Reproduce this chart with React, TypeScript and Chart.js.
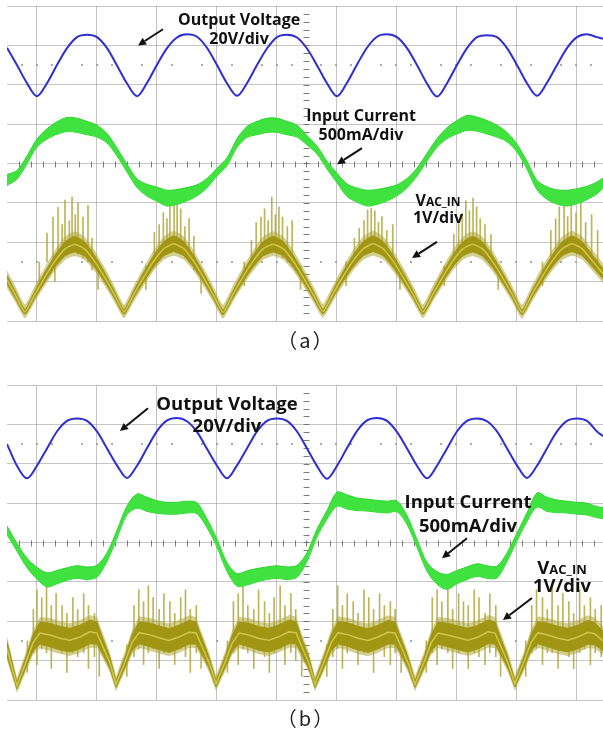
import React, { useEffect, useRef } from "react";
import { Chart, registerables } from "chart.js";
Chart.register(...registerables);

// Time axis in ms (5 ms/div), one sample every ~0.835 ms
const T = [0, 0.83, 1.67, 2.5, 3.34, 4.17, 5.01, 5.84, 6.68, 7.51, 8.35, 9.18, 10.02, 10.85, 11.69, 12.52, 13.36, 14.19, 15.02, 15.86, 16.69, 17.53, 18.36, 19.2, 20.03, 20.87, 21.7, 22.54, 23.37, 24.21, 25.04, 25.88, 26.71, 27.55, 28.38, 29.21, 30.05, 30.88, 31.72, 32.55, 33.39, 34.22, 35.06, 35.89, 36.73, 37.56, 38.4, 39.23, 40.07, 40.9, 41.74, 42.57, 43.4, 44.24, 45.07, 45.91, 46.74, 47.58, 48.41, 49.25, 49.75];

// ---------- Panel (a) values, in screen divisions (0 = bottom, 8 = top)
const outVoltageA = [6.94, 6.5, 6.04, 5.71, 6.04, 6.5, 6.93, 7.21, 7.27, 7.21, 6.93, 6.49, 6.03, 5.71, 6.05, 6.51, 6.93, 7.2, 7.28, 7.22, 6.94, 6.5, 6.04, 5.72, 6.04, 6.5, 6.92, 7.21, 7.27, 7.2, 6.92, 6.49, 6.04, 5.71, 6.05, 6.51, 6.94, 7.22, 7.28, 7.21, 6.93, 6.5, 6.03, 5.7, 6.04, 6.5, 6.93, 7.21, 7.26, 7.21, 6.93, 6.5, 6.04, 5.72, 6.05, 6.5, 6.93, 7.21, 7.28, 7.21, 7.17];
const inCurrentA = [3.58, 3.71, 4.09, 4.52, 4.75, 4.9, 4.99, 4.97, 4.9, 4.82, 4.64, 4.29, 3.88, 3.5, 3.32, 3.22, 3.12, 3.15, 3.22, 3.32, 3.5, 3.78, 4.04, 4.52, 4.8, 4.9, 4.97, 4.97, 4.9, 4.82, 4.59, 4.34, 3.96, 3.63, 3.32, 3.2, 3.12, 3.15, 3.22, 3.32, 3.5, 3.78, 4.16, 4.52, 4.77, 4.92, 5.03, 5.0, 4.92, 4.82, 4.67, 4.39, 3.96, 3.45, 3.25, 3.15, 3.12, 3.17, 3.25, 3.38, 3.5];
const inCurrentSpreadA = [0.14, 0.11, 0.1, 0.1, 0.13, 0.16, 0.18, 0.18, 0.17, 0.15, 0.12, 0.1, 0.1, 0.11, 0.15, 0.18, 0.2, 0.19, 0.17, 0.14, 0.12, 0.1, 0.1, 0.11, 0.14, 0.17, 0.18, 0.18, 0.17, 0.15, 0.12, 0.1, 0.1, 0.12, 0.16, 0.18, 0.2, 0.19, 0.17, 0.14, 0.12, 0.1, 0.1, 0.11, 0.14, 0.17, 0.19, 0.18, 0.17, 0.15, 0.12, 0.1, 0.1, 0.12, 0.16, 0.18, 0.2, 0.19, 0.17, 0.15, 0.13];
const vacTimeA = [0, 0.67, 1.5, 2.33, 3.17, 4.0, 4.84, 5.65, 6.47, 7.3, 8.14, 8.95, 9.77, 10.6, 11.44, 12.27, 13.11, 13.92, 14.74, 15.57, 16.4, 17.21, 18.03, 18.87, 19.7, 20.54, 21.37, 22.2, 23.04, 23.87, 24.71, 25.54, 26.38, 27.21, 28.05, 28.88, 29.72, 30.55, 31.38, 32.22, 33.05, 33.89, 34.72, 35.55, 36.38, 37.22, 38.05, 38.86, 39.68, 40.51, 41.33, 42.16, 42.99, 43.83, 44.66, 45.5, 46.33, 47.16, 48.0, 48.83, 49.75];
const vacA = [1.05, 0.68, 0.23, 0.68, 1.12, 1.52, 1.83, 1.95, 1.83, 1.52, 1.12, 0.68, 0.23, 0.69, 1.13, 1.53, 1.84, 1.96, 1.84, 1.52, 1.11, 0.67, 0.22, 0.68, 1.12, 1.52, 1.83, 1.95, 1.84, 1.53, 1.12, 0.68, 0.24, 0.69, 1.13, 1.52, 1.83, 1.96, 1.84, 1.52, 1.12, 0.68, 0.23, 0.68, 1.12, 1.53, 1.83, 1.95, 1.83, 1.52, 1.12, 0.68, 0.22, 0.68, 1.12, 1.52, 1.83, 1.96, 1.84, 1.54, 1.2];
const vacSpreadA = [0.11, 0.09, 0.06, 0.09, 0.12, 0.15, 0.18, 0.2, 0.18, 0.15, 0.12, 0.09, 0.06, 0.09, 0.12, 0.15, 0.18, 0.2, 0.18, 0.15, 0.12, 0.09, 0.06, 0.09, 0.12, 0.15, 0.18, 0.2, 0.18, 0.15, 0.12, 0.09, 0.06, 0.09, 0.12, 0.15, 0.18, 0.2, 0.18, 0.15, 0.12, 0.09, 0.06, 0.09, 0.12, 0.15, 0.18, 0.2, 0.18, 0.15, 0.12, 0.09, 0.06, 0.09, 0.12, 0.15, 0.18, 0.2, 0.18, 0.15, 0.13];
const spikeTimeA = [2.7, 3.34, 3.84, 4.0, 4.26, 4.6, 4.84, 5.2, 5.43, 5.7, 5.93, 6.34, 6.76, 7.1, 7.6, 11.6, 12.3, 12.7, 13.05, 13.35, 13.6, 13.95, 14.2, 14.5, 14.85, 15.2, 15.6, 16.2, 19.8, 20.4, 20.8, 21.2, 21.5, 21.8, 22.1, 22.4, 22.7, 23.0, 23.4, 23.8, 24.5, 28.3, 29.0, 29.4, 29.8, 30.1, 30.4, 30.7, 31.0, 31.3, 31.7, 32.2, 32.8, 36.5, 37.3, 37.7, 38.0, 38.3, 38.6, 38.9, 39.2, 39.5, 39.9, 40.4, 41.0, 44.7, 45.4, 45.8, 46.1, 46.5, 46.8, 47.1, 47.5, 47.9, 48.3, 48.8, 49.3];
const spikeLowA = [0.95, 1.5, 1.6, 1.0, 1.7, 1.7, 1.8, 1.8, 1.75, 1.8, 1.7, 1.6, 1.5, 1.3, 0.8, 0.8, 1.5, 1.6, 1.7, 1.7, 1.8, 1.8, 1.8, 1.7, 1.6, 1.5, 1.3, 0.7, 0.9, 1.5, 1.6, 1.7, 1.7, 1.8, 1.8, 1.8, 1.7, 1.6, 1.5, 1.4, 0.8, 0.9, 1.5, 1.6, 1.7, 1.8, 1.8, 1.8, 1.8, 1.7, 1.6, 1.5, 0.8, 0.9, 1.5, 1.6, 1.7, 1.8, 1.8, 1.8, 1.8, 1.7, 1.6, 1.4, 0.8, 0.9, 1.5, 1.6, 1.7, 1.8, 1.8, 1.8, 1.8, 1.7, 1.6, 1.5, 1.4];
const spikeHighA = [1.5, 2.23, 2.64, 1.6, 2.89, 2.45, 3.07, 2.55, 3.15, 2.7, 3.0, 2.64, 2.94, 2.1, 1.5, 1.4, 2.25, 2.45, 2.75, 2.6, 3.05, 2.95, 3.0, 2.85, 2.4, 2.6, 2.15, 1.3, 1.5, 2.05, 2.5, 2.64, 2.85, 2.55, 3.15, 2.7, 2.9, 2.64, 2.4, 2.55, 1.4, 1.5, 2.1, 2.35, 2.55, 2.82, 2.87, 2.8, 2.5, 2.65, 2.3, 2.45, 1.3, 1.4, 2.2, 2.5, 2.74, 3.05, 2.8, 3.12, 2.9, 2.6, 2.45, 2.2, 1.3, 1.5, 2.3, 2.6, 2.9, 3.1, 2.65, 2.95, 2.75, 3.05, 2.5, 2.7, 2.3];

// ---------- Panel (b) values
const outVoltageB = [6.5, 5.95, 5.63, 5.95, 6.39, 6.82, 7.09, 7.15, 7.09, 6.82, 6.39, 5.96, 5.64, 5.95, 6.4, 6.83, 7.1, 7.16, 7.08, 6.81, 6.38, 5.95, 5.63, 5.96, 6.39, 6.82, 7.09, 7.15, 7.09, 6.82, 6.39, 5.94, 5.62, 5.95, 6.4, 6.83, 7.1, 7.16, 7.09, 6.81, 6.39, 5.95, 5.63, 5.95, 6.39, 6.82, 7.09, 7.15, 7.08, 6.82, 6.39, 5.96, 5.64, 5.95, 6.39, 6.82, 7.09, 7.15, 7.09, 6.82, 6.7];
const inCurrentB = [4.31, 3.88, 3.48, 3.22, 3.05, 3.12, 3.2, 3.25, 3.22, 3.27, 3.63, 4.21, 4.82, 5.05, 4.97, 4.9, 4.87, 4.87, 4.9, 4.87, 4.49, 3.98, 3.38, 3.05, 3.1, 3.17, 3.22, 3.25, 3.22, 3.27, 3.63, 4.24, 4.7, 5.1, 5.03, 4.97, 4.95, 4.92, 4.9, 4.92, 4.57, 3.98, 3.38, 3.1, 3.0, 3.12, 3.22, 3.3, 3.25, 3.25, 3.63, 4.14, 4.64, 5.08, 4.97, 4.92, 4.9, 4.87, 4.85, 4.77, 4.75];
const inCurrentSpreadB = [0.11, 0.1, 0.12, 0.15, 0.18, 0.17, 0.16, 0.16, 0.16, 0.15, 0.11, 0.1, 0.11, 0.18, 0.18, 0.16, 0.15, 0.15, 0.15, 0.14, 0.11, 0.1, 0.11, 0.16, 0.18, 0.17, 0.16, 0.16, 0.16, 0.15, 0.11, 0.1, 0.11, 0.18, 0.18, 0.16, 0.15, 0.15, 0.15, 0.14, 0.11, 0.1, 0.11, 0.16, 0.19, 0.17, 0.16, 0.16, 0.16, 0.15, 0.11, 0.1, 0.11, 0.18, 0.18, 0.16, 0.15, 0.15, 0.15, 0.14, 0.14];
const vacTimeB = [0, 0.83, 1.66, 2.17, 2.75, 3.58, 4.42, 5.25, 6.09, 6.92, 7.51, 8.01, 8.59, 9.1, 9.93, 10.44, 11.02, 11.85, 12.69, 13.52, 14.36, 15.19, 15.78, 16.28, 16.86, 17.45, 18.28, 18.79, 19.37, 20.2, 21.04, 21.87, 22.71, 23.54, 24.13, 24.63, 25.21, 25.71, 26.54, 27.05, 27.63, 28.46, 29.3, 30.13, 30.97, 31.8, 32.39, 32.89, 33.47, 34.06, 34.89, 35.4, 35.98, 36.81, 37.65, 38.48, 39.32, 40.15, 40.74, 41.24, 41.82, 42.4, 43.23, 43.74, 44.32, 45.15, 45.99, 46.82, 47.66, 48.49, 49.08, 49.75];
const vacB = [1.3, 0.36, 1.02, 1.45, 1.7, 1.65, 1.57, 1.52, 1.6, 1.73, 1.7, 1.35, 0.94, 0.4, 1.03, 1.46, 1.71, 1.66, 1.58, 1.51, 1.6, 1.72, 1.7, 1.36, 0.95, 0.41, 1.02, 1.44, 1.7, 1.65, 1.56, 1.52, 1.61, 1.73, 1.71, 1.34, 0.93, 0.4, 1.03, 1.45, 1.71, 1.66, 1.57, 1.51, 1.6, 1.72, 1.7, 1.36, 0.95, 0.4, 1.02, 1.45, 1.7, 1.65, 1.58, 1.52, 1.6, 1.73, 1.7, 1.35, 0.94, 0.41, 1.03, 1.46, 1.71, 1.65, 1.57, 1.52, 1.6, 1.72, 1.68, 1.5];
const vacSpreadB = [0.18, 0.08, 0.14, 0.2, 0.28, 0.3, 0.3, 0.3, 0.3, 0.3, 0.28, 0.2, 0.14, 0.08, 0.14, 0.2, 0.28, 0.3, 0.3, 0.3, 0.3, 0.3, 0.28, 0.2, 0.14, 0.08, 0.14, 0.2, 0.28, 0.3, 0.3, 0.3, 0.3, 0.3, 0.28, 0.2, 0.14, 0.08, 0.14, 0.2, 0.28, 0.3, 0.3, 0.3, 0.3, 0.3, 0.28, 0.2, 0.14, 0.08, 0.14, 0.2, 0.28, 0.3, 0.3, 0.3, 0.3, 0.3, 0.28, 0.2, 0.14, 0.08, 0.14, 0.2, 0.28, 0.3, 0.3, 0.3, 0.3, 0.3, 0.28, 0.25];
const spikeTimeB = [1.7, 2.2, 2.5, 2.9, 3.3, 3.7, 4.1, 4.6, 5.0, 5.5, 5.9, 6.4, 6.8, 7.3, 7.7, 10.0, 10.6, 11.0, 11.4, 11.8, 12.2, 12.7, 13.1, 13.6, 14.0, 14.5, 14.9, 15.3, 15.8, 16.2, 18.4, 18.9, 19.3, 19.7, 20.1, 20.6, 21.0, 21.5, 21.9, 22.3, 22.8, 23.2, 23.7, 24.1, 24.6, 26.7, 27.2, 27.6, 28.0, 28.4, 28.9, 29.3, 29.8, 30.2, 30.6, 31.1, 31.5, 32.0, 32.4, 32.9, 35.0, 35.5, 35.9, 36.3, 36.8, 37.2, 37.7, 38.1, 38.5, 39.0, 39.4, 39.9, 40.3, 40.8, 41.2, 43.3, 43.8, 44.2, 44.7, 45.1, 45.5, 46.0, 46.4, 46.9, 47.3, 47.8, 48.2, 48.7, 49.1, 49.6];
const spikeLowB = [0.7, 1.2, 0.9, 1.3, 1.2, 0.8, 1.3, 1.2, 0.7, 1.2, 1.1, 1.2, 0.8, 1.1, 0.6, 0.6, 1.1, 1.3, 0.9, 1.2, 1.3, 0.8, 1.2, 1.2, 0.9, 1.3, 1.1, 0.7, 1.2, 0.8, 0.7, 1.2, 0.9, 1.3, 1.2, 0.8, 1.3, 1.1, 0.7, 1.2, 1.3, 0.9, 1.2, 1.0, 0.6, 0.6, 1.1, 1.3, 0.8, 1.2, 1.3, 0.9, 1.2, 1.2, 0.7, 1.3, 1.1, 0.9, 1.2, 0.7, 0.7, 1.2, 0.9, 1.3, 1.2, 0.8, 1.2, 1.3, 0.8, 1.2, 1.1, 0.9, 1.2, 1.1, 0.6, 0.6, 1.2, 1.3, 0.9, 1.2, 1.2, 0.8, 1.3, 1.1, 0.8, 1.2, 1.3, 0.9, 1.2, 1.1];
const spikeHighB = [1.5, 2.3, 2.8, 2.6, 2.9, 2.4, 2.7, 2.4, 2.2, 2.6, 2.3, 2.7, 2.4, 2.2, 1.4, 1.4, 2.4, 2.8, 2.5, 2.9, 2.6, 2.3, 2.7, 2.5, 2.2, 2.6, 2.8, 2.3, 2.4, 1.6, 1.5, 2.5, 2.7, 2.9, 2.4, 2.3, 2.8, 2.5, 2.2, 2.6, 2.9, 2.4, 2.7, 2.3, 1.5, 1.4, 2.3, 2.9, 2.4, 2.7, 2.5, 2.2, 2.8, 2.6, 2.3, 2.7, 2.4, 2.5, 2.3, 1.5, 1.5, 2.6, 2.8, 2.5, 2.9, 2.3, 2.7, 2.5, 2.4, 2.8, 2.6, 2.2, 2.7, 2.4, 1.4, 1.5, 2.4, 2.8, 2.6, 2.3, 2.9, 2.4, 2.7, 2.5, 2.2, 2.8, 2.4, 2.6, 2.3, 2.4];

// Annotation texts
const labelOut = ["Output Voltage", "20V/div"];
const labelIn = ["Input Current", "500mA/div"];
const labelVacMain = "V";
const labelVacSub = "AC_IN";
const labelVacScale = "1V/div";

const BLUE = "#2e2ed2";
const GREEN = "#3fe23f";
const GREEN_EDGE = "#2fd42f";
const OLIVE = "#a09614";
const OLIVE_HALO = "rgba(175,165,55,0.55)";
const OLIVE_LIGHT = "rgba(178,168,60,0.85)";
const OLIVE_CENTER = "#d0c64c";
const GRID = "rgba(150,150,150,0.55)";

type Layout = {
  font: number;
  out: [number, number, number];
  outArrow: [number, number, number, number];
  inp: [number, number, number];
  inArrow: [number, number, number, number];
  vac: [number, number, number];
  vacArrow: [number, number, number, number];
};

const pts = (xs: number[], ys: number[]) => xs.map((x, i) => ({ x, y: ys[i] }));

function makeDatasets(blue: number[], green: number[], gSpread: number[], vt: number[], vac: number[], vSpread: number[], st: number[], sl: number[], sh: number[], vTension: number) {
  return [
    { type: "line", label: "Output Voltage", data: pts(T, blue), borderColor: BLUE, borderWidth: 2, pointRadius: 0, cubicInterpolationMode: "monotone", fill: false, order: 1 },
    { type: "line", label: "Input Current +", data: T.map((x, i) => ({ x, y: green[i] + gSpread[i] })), borderColor: GREEN_EDGE, backgroundColor: GREEN, borderWidth: 1, pointRadius: 0, tension: 0.3, fill: "+1", order: 2 },
    { type: "line", label: "Input Current -", data: T.map((x, i) => ({ x, y: green[i] - gSpread[i] })), borderColor: GREEN_EDGE, borderWidth: 1, pointRadius: 0, tension: 0.3, fill: false, order: 2 },
    { type: "line", label: "VAC_IN", data: pts(vt, vac), borderColor: OLIVE_CENTER, borderWidth: 1.5, pointRadius: 0, tension: vTension, fill: false, order: 3 },
    { type: "line", label: "VAC_IN +", data: vt.map((x, i) => ({ x, y: vac[i] + vSpread[i] })), borderColor: OLIVE, backgroundColor: OLIVE, borderWidth: 1, pointRadius: 0, tension: vTension, fill: "+1", order: 4 },
    { type: "line", label: "VAC_IN -", data: vt.map((x, i) => ({ x, y: vac[i] - vSpread[i] })), borderColor: OLIVE, borderWidth: 1, pointRadius: 0, tension: vTension, fill: false, order: 4 },
    { type: "line", label: "VAC_IN halo +", data: vt.map((x, i) => ({ x, y: vac[i] + vSpread[i] + 0.13 })), borderColor: "rgba(0,0,0,0)", backgroundColor: OLIVE_HALO, borderWidth: 0, pointRadius: 0, tension: vTension, fill: "+1", order: 5 },
    { type: "line", label: "VAC_IN halo -", data: vt.map((x, i) => ({ x, y: vac[i] - vSpread[i] - 0.1 })), borderColor: "rgba(0,0,0,0)", borderWidth: 0, pointRadius: 0, tension: vTension, fill: false, order: 5 },
    { type: "bar", label: "VAC_IN spikes", data: st.map((x, i) => ({ x, y: [sl[i], sh[i]] })), backgroundColor: OLIVE_LIGHT, borderWidth: 0, barThickness: 1, order: 6 },
  ];
}

function scopePlugin(layout: Layout) {
  return {
    id: "scope",
    beforeDatasetsDraw(chart: any) {
      const { ctx, scales } = chart;
      const xs = scales.x, ys = scales.y;
      ctx.save();
      ctx.fillStyle = "rgba(150,150,150,0.8)";
      [6.5, 1.5].forEach((v) => {
        const py = Math.round(ys.getPixelForValue(v));
        for (let t = 1.25; t < 50; t += 1.25) {
          if (Math.abs(t / 5 - Math.round(t / 5)) < 0.01) continue;
          const px = Math.round(xs.getPixelForValue(t));
          ctx.fillRect(px - 1, py - 1, 2, 2);
        }
      });
      ctx.strokeStyle = "rgba(110,110,110,0.9)";
      ctx.lineWidth = 1;
      const cy = Math.round(ys.getPixelForValue(4)) + 0.5;
      for (let t = 1; t < 50; t += 1) {
        const px = Math.round(xs.getPixelForValue(t)) + 0.5;
        ctx.beginPath(); ctx.moveTo(px, cy - 3); ctx.lineTo(px, cy + 3); ctx.stroke();
      }
      const cx = Math.round(xs.getPixelForValue(25)) + 0.5;
      for (let v = 0.2; v < 8; v += 0.2) {
        const py = Math.round(ys.getPixelForValue(v)) + 0.5;
        ctx.beginPath(); ctx.moveTo(cx - 3, py); ctx.lineTo(cx + 3, py); ctx.stroke();
      }
      ctx.restore();
    },
    afterDatasetsDraw(chart: any) {
      const { ctx, scales } = chart;
      const X = (t: number) => scales.x.getPixelForValue(t);
      const Y = (v: number) => scales.y.getPixelForValue(v);
      const f = layout.font;
      ctx.save();
      ctx.fillStyle = "#111";
      ctx.textAlign = "center";
      ctx.textBaseline = "middle";
      const bold = (s: number) => `bold ${s}px "Open Sans", "Noto Sans", sans-serif`;
      ctx.font = bold(f);
      ctx.fillText(labelOut[0], X(layout.out[0]), Y(layout.out[1]));
      ctx.fillText(labelOut[1], X(layout.out[0]), Y(layout.out[2]));
      ctx.fillText(labelIn[0], X(layout.inp[0]), Y(layout.inp[1]));
      ctx.fillText(labelIn[1], X(layout.inp[0]), Y(layout.inp[2]));
      const sub = Math.round(f * 0.72);
      ctx.font = bold(f);
      const wV = ctx.measureText(labelVacMain).width;
      ctx.font = bold(sub);
      const wS = ctx.measureText(labelVacSub).width;
      const x0 = X(layout.vac[0]) - (wV + wS) / 2;
      const yb = Y(layout.vac[1]) + f * 0.36;
      ctx.textAlign = "left";
      ctx.textBaseline = "alphabetic";
      ctx.font = bold(f);
      ctx.fillText(labelVacMain, x0, yb);
      ctx.font = bold(sub);
      ctx.fillText(labelVacSub, x0 + wV, yb);
      ctx.textAlign = "center";
      ctx.textBaseline = "middle";
      ctx.font = bold(f);
      ctx.fillText(labelVacScale, X(layout.vac[0]), Y(layout.vac[2]));
      ctx.strokeStyle = "#111";
      ctx.lineWidth = 2;
      [layout.outArrow, layout.inArrow, layout.vacArrow].forEach((ar) => {
        const x1 = X(ar[0]), y1 = Y(ar[1]), x2 = X(ar[2]), y2 = Y(ar[3]);
        const ang = Math.atan2(y2 - y1, x2 - x1);
        const hl = 8, hw = 4;
        const bx = x2 - hl * Math.cos(ang), by = y2 - hl * Math.sin(ang);
        ctx.beginPath(); ctx.moveTo(x1, y1); ctx.lineTo(bx, by); ctx.stroke();
        ctx.beginPath();
        ctx.moveTo(x2, y2);
        ctx.lineTo(bx + hw * Math.sin(ang), by - hw * Math.cos(ang));
        ctx.lineTo(bx - hw * Math.sin(ang), by + hw * Math.cos(ang));
        ctx.closePath();
        ctx.fillStyle = "#111";
        ctx.fill();
      });
      ctx.restore();
    },
  };
}

const layoutA: Layout = {
  font: 16,
  out: [19.37, 7.64, 7.14],
  outArrow: [13.02, 7.41, 10.94, 7.0],
  inp: [29.55, 5.19, 4.72],
  inArrow: [29.63, 4.39, 27.55, 3.98],
  vac: [35.98, 3.07, 2.61],
  vacArrow: [35.89, 2.01, 33.81, 1.6],
};
const layoutB: Layout = {
  font: 18.5,
  out: [18.36, 7.49, 6.93],
  outArrow: [11.77, 7.41, 9.43, 6.83],
  inp: [38.48, 5.0, 4.39],
  inArrow: [38.4, 4.11, 36.31, 3.6],
  vac: [46.33, 3.38, 2.87],
  vacArrow: [43.82, 2.59, 41.4, 2.03],
};

function Scope(props: { datasets: any[]; layout: Layout; height: number; padTop: number; padBottom: number }) {
  const ref = useRef<HTMLCanvasElement>(null);
  useEffect(() => {
    const grid = { color: GRID, lineWidth: 1, drawTicks: false };
    const chart = new Chart(ref.current as HTMLCanvasElement, {
      type: "line",
      data: { datasets: props.datasets as any },
      options: {
        animation: false,
        responsive: false,
        maintainAspectRatio: false,
        layout: { padding: { left: 7, right: 0, top: props.padTop, bottom: props.padBottom } },
        plugins: { legend: { display: false }, tooltip: { enabled: false } },
        scales: {
          x: { type: "linear", min: 0, max: 49.75, offset: false, ticks: { display: false, stepSize: 5, includeBounds: false }, grid, border: { display: false } },
          y: { type: "linear", min: 0, max: 8, ticks: { display: false, stepSize: 1 }, grid, border: { display: false } },
        },
      } as any,
      plugins: [scopePlugin(props.layout)],
    });
    return () => chart.destroy();
  }, []);
  return <canvas ref={ref} width={603} height={props.height} style={{ display: "block", width: 603, height: props.height }} />;
}

const captionStyle = (top: number): React.CSSProperties => ({
  position: "absolute",
  top,
  left: 246,
  width: 120,
  textAlign: "center",
  font: '20px "Noto Sans CJK KR", sans-serif',
  letterSpacing: "2px",
  lineHeight: "24px",
  color: "#222",
});

export default function App() {
  const dsA = makeDatasets(outVoltageA, inCurrentA, inCurrentSpreadA, vacTimeA, vacA, vacSpreadA, spikeTimeA, spikeLowA, spikeHighA, 0.15);
  const dsB = makeDatasets(outVoltageB, inCurrentB, inCurrentSpreadB, vacTimeB, vacB, vacSpreadB, spikeTimeB, spikeLowB, spikeHighB, 0);
  return (
    <div style={{ position: "absolute", left: 0, top: 0, width: 603, height: 731, background: "#fff", overflow: "hidden" }}>
      <div style={{ position: "absolute", left: 0, top: 0 }}>
        <Scope datasets={dsA} layout={layoutA} height={330} padTop={6} padBottom={9} />
      </div>
      <div style={captionStyle(328)}>（a）</div>
      <div style={{ position: "absolute", left: 0, top: 370 }}>
        <Scope datasets={dsB} layout={layoutB} height={340} padTop={15} padBottom={10} />
      </div>
      <div style={captionStyle(706)}>（b）</div>
    </div>
  );
}
